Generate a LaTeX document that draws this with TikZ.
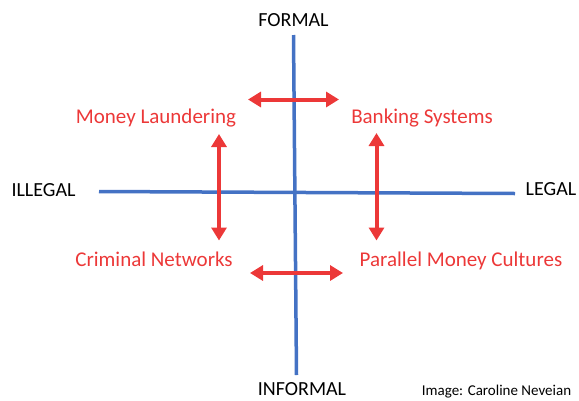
\documentclass[tikz,border=0pt]{standalone}
\usepackage{fontspec}
\setmainfont{Carlito}
\usetikzlibrary{arrows.meta}
\definecolor{axisblue}{RGB}{68,114,196}
\definecolor{flowred}{RGB}{236,56,56}
\begin{document}
\begin{tikzpicture}[x=1pt,y=-1pt,
		axis/.style={axisblue,line width=3.5pt},
		pole/.style={anchor=base,font=\fontsize{20}{24}\selectfont},
		field/.style={anchor=base,text=flowred,font=\fontsize{21}{25}\selectfont},
		swap/.style={flowred,line width=4pt,
			{Triangle[length=13pt,width=15pt]}-{Triangle[length=13pt,width=15pt]}}]
		\useasboundingbox (0,0) rectangle (579,400);
		% axes
		\coordinate (formal) at (293.5,35);
		\coordinate (informal) at (296.5,375);
		\coordinate (illegal) at (99,191.5);
		\coordinate (legal) at (515,193.5);
		\draw[axis] (formal)--(informal);
		\draw[axis] (illegal)--(legal);
		\node[pole] (Ftxt) at (293.5,26.5) {FORMAL};
		\node[pole] (Itxt) at (302,395) {INFORMAL};
		\node[pole] (Ltxt) at (43.5,196.5) {ILLEGAL};
		\node[pole] (Rtxt) at (551,195) {LEGAL};
		% fields
		\node[field] (launder) at (156,123) {Money Laundering};
		\node[field] (bank) at (422,123) {Banking Systems};
		\node[field] (crime) at (154,266) {Criminal Networks};
		\node[field] (parallel) at (461,266) {Parallel Money Cultures};
		% arrows between fields
		\coordinate (tl) at (248,99.5);
		\coordinate (tr) at (339,99.5);
		\coordinate (bl) at (250,273);
		\coordinate (br) at (343,273);
		\coordinate (lt) at (219,134);
		\coordinate (lb) at (219,240.5);
		\coordinate (rt) at (376.5,133);
		\coordinate (rb) at (376.5,240.5);
		\draw[swap] (tl)--(tr);
		\draw[swap] (bl)--(br);
		\draw[swap] (lt)--(lb);
		\draw[swap] (rt)--(rb);
		\node[anchor=base,font=\fontsize{15}{18}\selectfont] (credit) at (496.5,395.5) {Image: Caroline Neveian};
	\end{tikzpicture}
\end{document}
